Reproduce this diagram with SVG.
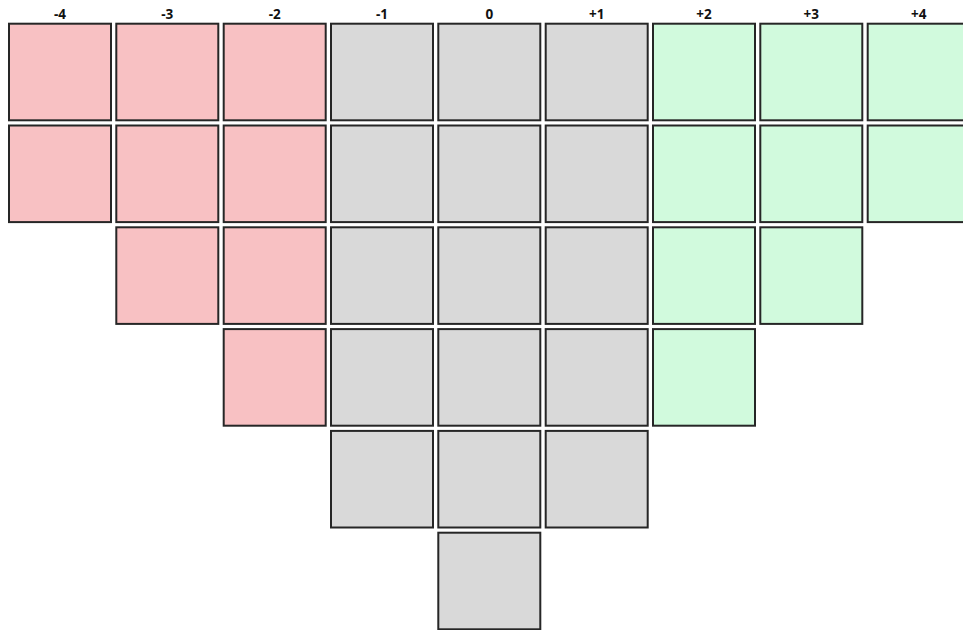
<svg xmlns="http://www.w3.org/2000/svg" width="963" height="630" viewBox="0 0 963 630">
<style>
rect.c{stroke:#262626;stroke-width:2}
.r{fill:#F8C1C3}
.g{fill:#D9D9D9}
.n{fill:#D1FADD}
text{font-family:"Open Sans","Liberation Sans",sans-serif;font-weight:bold;font-size:13.5px;text-anchor:middle;fill:#111}
</style>
<rect width="963" height="630" fill="#fff"/>
<g id="labels">
<text x="60" y="19">-4</text>
<text x="167.3" y="19">-3</text>
<text x="274.7" y="19">-2</text>
<text x="382" y="19">-1</text>
<text x="489.3" y="19">0</text>
<text x="596.7" y="19">+1</text>
<text x="704" y="19">+2</text>
<text x="811.3" y="19">+3</text>
<text x="918.7" y="19">+4</text>
</g>
<g id="col-m4">
<rect class="c r" x="9" y="23.7" width="102" height="96.6"/>
<rect class="c r" x="9" y="125.5" width="102" height="96.6"/>
</g>
<g id="col-m3">
<rect class="c r" x="116.3" y="23.7" width="102" height="96.6"/>
<rect class="c r" x="116.3" y="125.5" width="102" height="96.6"/>
<rect class="c r" x="116.3" y="227.3" width="102" height="96.6"/>
</g>
<g id="col-m2">
<rect class="c r" x="223.7" y="23.7" width="102" height="96.6"/>
<rect class="c r" x="223.7" y="125.5" width="102" height="96.6"/>
<rect class="c r" x="223.7" y="227.3" width="102" height="96.6"/>
<rect class="c r" x="223.7" y="329.1" width="102" height="96.6"/>
</g>
<g id="col-m1">
<rect class="c g" x="331" y="23.7" width="102" height="96.6"/>
<rect class="c g" x="331" y="125.5" width="102" height="96.6"/>
<rect class="c g" x="331" y="227.3" width="102" height="96.6"/>
<rect class="c g" x="331" y="329.1" width="102" height="96.6"/>
<rect class="c g" x="331" y="430.9" width="102" height="96.6"/>
</g>
<g id="col-0">
<rect class="c g" x="438.3" y="23.7" width="102" height="96.6"/>
<rect class="c g" x="438.3" y="125.5" width="102" height="96.6"/>
<rect class="c g" x="438.3" y="227.3" width="102" height="96.6"/>
<rect class="c g" x="438.3" y="329.1" width="102" height="96.6"/>
<rect class="c g" x="438.3" y="430.9" width="102" height="96.6"/>
<rect class="c g" x="438.3" y="532.7" width="102" height="96.6"/>
</g>
<g id="col-p1">
<rect class="c g" x="545.7" y="23.7" width="102" height="96.6"/>
<rect class="c g" x="545.7" y="125.5" width="102" height="96.6"/>
<rect class="c g" x="545.7" y="227.3" width="102" height="96.6"/>
<rect class="c g" x="545.7" y="329.1" width="102" height="96.6"/>
<rect class="c g" x="545.7" y="430.9" width="102" height="96.6"/>
</g>
<g id="col-p2">
<rect class="c n" x="653" y="23.7" width="102" height="96.6"/>
<rect class="c n" x="653" y="125.5" width="102" height="96.6"/>
<rect class="c n" x="653" y="227.3" width="102" height="96.6"/>
<rect class="c n" x="653" y="329.1" width="102" height="96.6"/>
</g>
<g id="col-p3">
<rect class="c n" x="760.3" y="23.7" width="102" height="96.6"/>
<rect class="c n" x="760.3" y="125.5" width="102" height="96.6"/>
<rect class="c n" x="760.3" y="227.3" width="102" height="96.6"/>
</g>
<g id="col-p4">
<rect class="c n" x="867.7" y="23.7" width="102" height="96.6"/>
<rect class="c n" x="867.7" y="125.5" width="102" height="96.6"/>
</g>
</svg>
